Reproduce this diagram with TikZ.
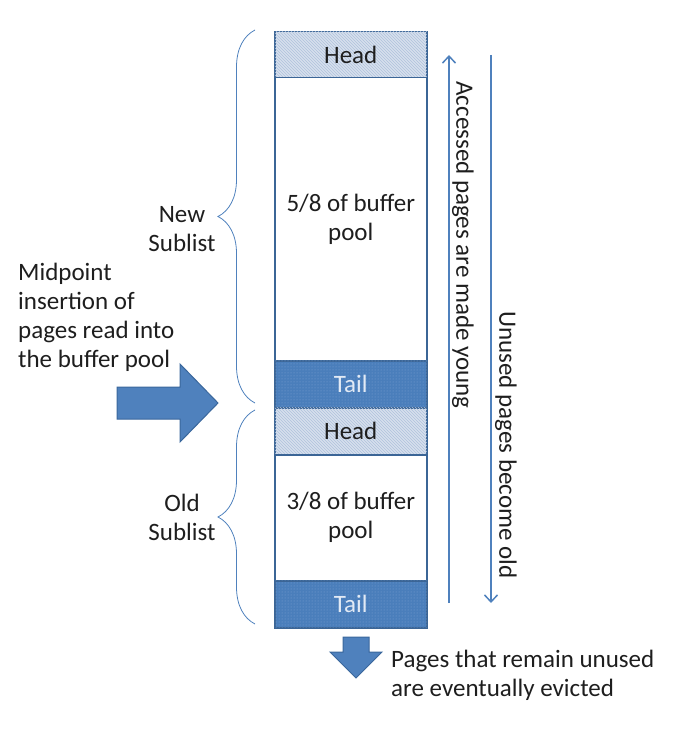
\documentclass[tikz,border=0pt]{standalone}
\usepackage{fontspec}
\setmainfont{Carlito}
\usetikzlibrary{arrows.meta,chains,positioning,patterns}
\usetikzlibrary{decorations.pathreplacing}
\definecolor{borderblue}{HTML}{3B6596}
\definecolor{headfill}{HTML}{D7E0ED}
\definecolor{hatchcol}{HTML}{AFC2DC}
\definecolor{tailfill}{HTML}{4A7EBB}
\definecolor{dotcol}{HTML}{7FA4D4}
\definecolor{tailtext}{HTML}{E2EAF5}
\definecolor{braceblue}{HTML}{4F81BD}
\definecolor{arrowfill}{HTML}{4F81BD}
\definecolor{arrowline}{HTML}{3A679C}
\definecolor{textgray}{HTML}{1E1E1E}

\begin{document}
\begin{tikzpicture}[x=1pt,y=-1pt,start chain=col going below,
        every node/.style={font=\fontsize{25}{29}\selectfont,text=textgray},
        seg/.style={draw=borderblue,line width=1.5pt,minimum width=152pt,
        inner sep=0pt,align=center},
        headseg/.style={seg,fill=headfill,
        postaction={pattern=north west lines,pattern color=hatchcol}},
        tailseg/.style={seg,fill=tailfill,text=tailtext,
        postaction={pattern=dots,pattern color=dotcol}},
        poolseg/.style={seg,fill=white},
        sbrace/.style={draw=braceblue,line width=0.8pt,decorate,
        decoration={brace,amplitude=37pt}},
        blockarrow/.style={fill=arrowfill,draw=arrowline,line width=1pt},
        flow/.style={draw=braceblue,line width=1.5pt,
        -{Straight Barb[length=7pt,width=13pt,line width=1.5pt]}}]
        \useasboundingbox (0,0) rectangle (698,733);

        % the buffer pool column
        \begin{scope}[node distance=-1.5pt]
        \node [on chain=col,headseg,minimum height=46pt,anchor=north west]
        (H1) at (274,31) {Head};
        \node [on chain=col,poolseg,minimum height=283pt] (P1) {5/8 of buffer\\pool};
        \node [on chain=col,tailseg,minimum height=47pt] (T1) {Tail};
        \node [on chain=col,headseg,minimum height=47pt] (H2) {Head};
        \node [on chain=col,poolseg,minimum height=126pt] (P2) {3/8 of buffer\\pool};
        \node [on chain=col,tailseg,minimum height=47pt] (T2) {Tail};
        \end{scope}

        % sublists
        \coordinate (NT) at (255,30);
        \coordinate (NB) at (255,403);
        \coordinate (OT) at (255,410);
        \coordinate (OB) at (255,624);
        \draw[sbrace] (NB) -- (NT);
        \draw[sbrace] (OB) -- (OT);
        \node[align=center] (New) at (182,229) {New\\Sublist};
        \node[align=center] (Old) at (182,517) {Old\\Sublist};
        \node[align=left,anchor=west,inner sep=0pt] (Mid) at (18,317)
        {Midpoint\\insertion of\\pages read into\\the buffer pool};

        % block arrows
        \draw[blockarrow] (117,387) -- (180,387) -- (180,364) -- (218,403)
        -- (180,442) -- (180,419) -- (117,419) -- cycle;
        \draw[blockarrow] (343,637) -- (369,637) -- (369,652) -- (382,652)
        -- (356,678) -- (330,652) -- (343,652) -- cycle;
        \node[align=left,anchor=west,inner sep=0pt] (Evict) at (391,675)
        {Pages that remain unused\\are eventually evicted};

        % ageing arrows
        \coordinate (UB) at (449,603);
        \coordinate (UT) at (449,55);
        \coordinate (DT) at (491,55);
        \coordinate (DB) at (491,603);
        \draw[flow] (UB) -- (UT);
        \draw[flow] (DT) -- (DB);
        \node[rotate=-90] (Young) at (463,245) {Accessed pages are made young};
        \node[rotate=-90] (Aged) at (506,445) {Unused pages become old};
\end{tikzpicture}
\end{document}
